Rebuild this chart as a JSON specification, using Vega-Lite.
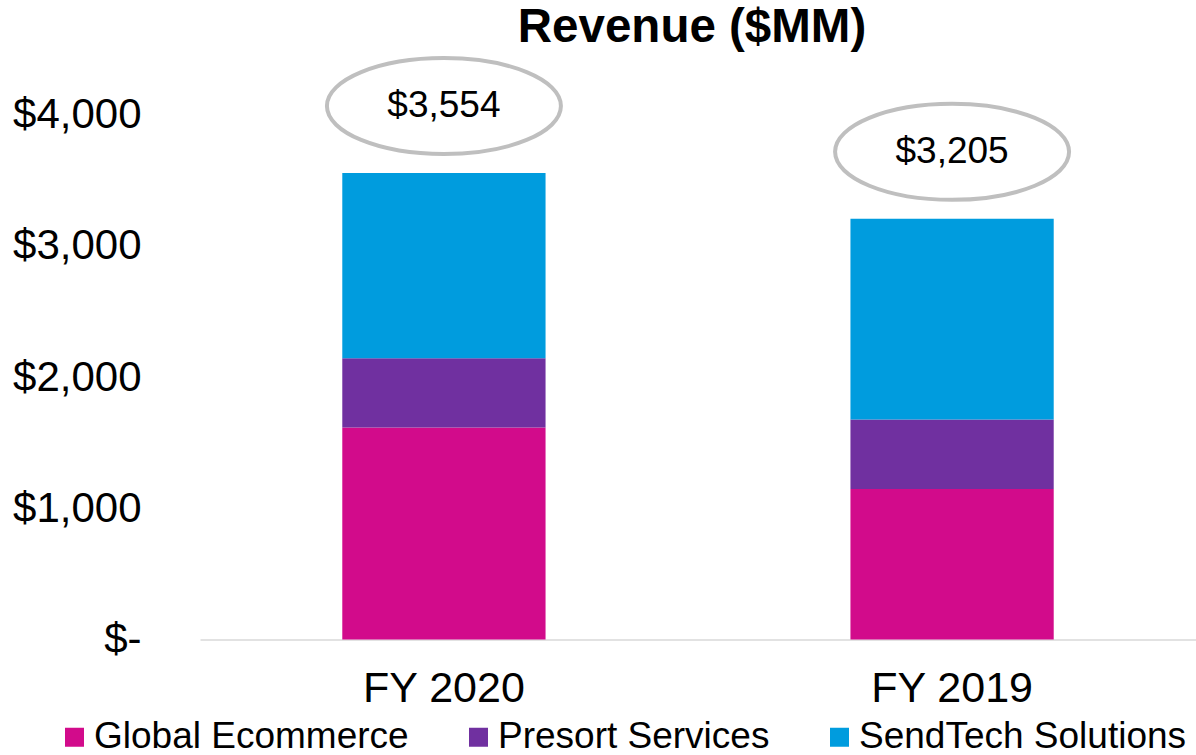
{
  "$schema": "https://vega.github.io/schema/vega-lite/v6.json",
  "autosize": {"type": "none"},
  "width": 996,
  "height": 525,
  "padding": {"left": 200, "top": 114.5, "right": 0, "bottom": 115.5},
  "background": "white",
  "title": {
    "text": "Revenue ($MM)",
    "font": "Liberation Sans",
    "fontSize": 47.5,
    "fontWeight": "bold",
    "color": "black",
    "anchor": "middle",
    "baseline": "alphabetic",
    "offset": 7,
    "dx": -6,
    "dy": 46
  },
  "data": {
    "values": [
      {"year": "FY 2020", "segment": "Global Ecommerce", "value": 1616},
      {"year": "FY 2020", "segment": "Presort Services", "value": 526},
      {"year": "FY 2020", "segment": "SendTech Solutions", "value": 1412},
      {"year": "FY 2019", "segment": "Global Ecommerce", "value": 1146},
      {"year": "FY 2019", "segment": "Presort Services", "value": 531},
      {"year": "FY 2019", "segment": "SendTech Solutions", "value": 1528}
    ]
  },
  "encoding": {
    "x": {
      "field": "year",
      "type": "nominal",
      "sort": ["FY 2020", "FY 2019"],
      "scale": {"paddingInner": 0.6, "paddingOuter": 0.28},
      "axis": {
        "title": null,
        "labelAngle": 0,
        "labelFont": "Liberation Sans",
        "labelFontSize": 43,
        "labelColor": "black",
        "labelPadding": 28,
        "ticks": false,
        "domainColor": "#D9D9D9",
        "domainWidth": 1.5
      }
    }
  },
  "layer": [
    {
      "mark": {"type": "bar"},
      "encoding": {
        "y": {
          "aggregate": "sum",
          "field": "value",
          "type": "quantitative",
          "stack": "zero",
          "scale": {"domain": [0, 4000]},
          "axis": {
            "title": null,
            "values": [0, 1000, 2000, 3000, 4000],
            "labelExpr": "datum.value == 0 ? '$-' : '$' + format(datum.value, ',')",
            "labelFont": "Liberation Sans",
            "labelFontSize": 42,
            "labelColor": "black",
            "labelPadding": 59,
            "domain": false,
            "ticks": false,
            "grid": false
          }
        },
        "color": {
          "field": "segment",
          "type": "nominal",
          "scale": {
            "domain": ["Global Ecommerce", "Presort Services", "SendTech Solutions"],
            "range": ["#D20B8B", "#7030A0", "#009CDE"]
          },
          "legend": {
            "title": null,
            "orient": "none",
            "direction": "horizontal",
            "legendX": -144,
            "legendY": 604,
            "padding": 0,
            "symbolType": "square",
            "symbolSize": 361,
            "symbolStrokeWidth": 0,
            "labelFont": "Liberation Sans",
            "labelFontSize": 37,
            "labelColor": "black",
            "labelOffset": 1,
            "columnPadding": 51,
            "labelLimit": 500
          }
        },
        "order": {"field": "segment", "sort": "ascending"}
      }
    },
    {
      "transform": [
        {"aggregate": [{"op": "sum", "field": "value", "as": "total"}], "groupby": ["year"]}
      ],
      "mark": {
        "type": "point",
        "shape": "M-1,0C-1,-0.2264,-0.5523,-0.41,0,-0.41C0.5523,-0.41,1,-0.2264,1,0C1,0.2264,0.5523,0.41,0,0.41C-0.5523,0.41,-1,0.2264,-1,0Z",
        "size": 54756,
        "filled": false,
        "stroke": "#BFBFBF",
        "strokeWidth": 4,
        "opacity": 1,
        "yOffset": -67
      },
      "encoding": {
        "y": {"field": "total", "type": "quantitative"}
      }
    },
    {
      "transform": [
        {"aggregate": [{"op": "sum", "field": "value", "as": "total"}], "groupby": ["year"]}
      ],
      "mark": {
        "type": "text",
        "font": "Liberation Sans",
        "fontSize": 37,
        "color": "black",
        "baseline": "middle",
        "align": "center",
        "yOffset": -67
      },
      "encoding": {
        "y": {"field": "total", "type": "quantitative"},
        "text": {"field": "total", "type": "quantitative", "format": "$,.0f"}
      }
    }
  ],
  "config": {
    "view": {"stroke": null}
  }
}
